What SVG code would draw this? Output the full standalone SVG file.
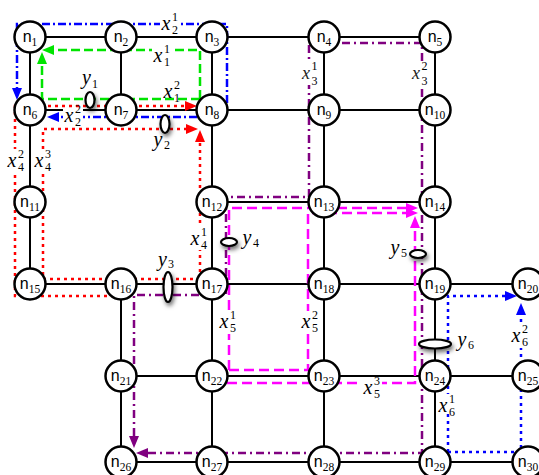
<svg xmlns="http://www.w3.org/2000/svg" width="539" height="475" viewBox="0 0 539 475">
<style>
.edge{stroke:#000;stroke-width:2;fill:none}
.node circle{fill:#fff;stroke:#000;stroke-width:2.5}
.nl{font-family:"Liberation Sans",Arial,sans-serif;font-size:16px;text-anchor:middle;fill:#000}
.ns{font-family:"Liberation Serif","Times New Roman",serif;font-size:11.5px}
.p{fill:none;stroke-width:2.5}
.g{stroke:#00e400;stroke-dasharray:9 4}
.b{stroke:#0000ff;stroke-dasharray:8 3 2 3}
.r{stroke:#ff0000;stroke-dasharray:3 4}
.pu{stroke:#800080;stroke-dasharray:8 4 2 4}
.mg{stroke:#ff00ff;stroke-dasharray:10 5}
.bd{stroke:#0000ff;stroke-dasharray:3 4}
.m{font-family:"Liberation Serif","Times New Roman",serif;font-style:italic;font-size:20px;text-anchor:middle;fill:#000}
.s{font-family:"Liberation Serif","Times New Roman",serif;font-size:12px;fill:#000}
.sm{font-size:18px;fill:#222}
.bg{fill:#fff}
.yel{fill:#fff;stroke:#000;stroke-width:2.2}
</style>
<defs>
<filter id="sh" x="-100%" y="-100%" width="300%" height="300%">
<feDropShadow dx="1.5" dy="3" stdDeviation="2.2" flood-color="#000" flood-opacity="0.55"/>
</filter>
<marker id="ag" markerUnits="userSpaceOnUse" markerWidth="13" markerHeight="12" viewBox="0 -6 13 12" refX="0" refY="0" orient="auto"><path d="M0,-5 L12,0 L0,5 z" fill="#00e400"/></marker>
<marker id="ab" markerUnits="userSpaceOnUse" markerWidth="13" markerHeight="12" viewBox="0 -6 13 12" refX="0" refY="0" orient="auto"><path d="M0,-5 L12,0 L0,5 z" fill="#0000ff"/></marker>
<marker id="ar" markerUnits="userSpaceOnUse" markerWidth="13" markerHeight="12" viewBox="0 -6 13 12" refX="0" refY="0" orient="auto"><path d="M0,-5 L12,0 L0,5 z" fill="#ff0000"/></marker>
<marker id="ap" markerUnits="userSpaceOnUse" markerWidth="13" markerHeight="12" viewBox="0 -6 13 12" refX="0" refY="0" orient="auto"><path d="M0,-5 L12,0 L0,5 z" fill="#800080"/></marker>
<marker id="am" markerUnits="userSpaceOnUse" markerWidth="13" markerHeight="12" viewBox="0 -6 13 12" refX="0" refY="0" orient="auto"><path d="M0,-5 L12,0 L0,5 z" fill="#ff00ff"/></marker>
</defs>
<rect width="539" height="475" fill="#fff"/>
<g id="edges">
<path class="edge" d="M30,37 H435 M30,110 H435 M212,202 H435 M30,284 H528 M121,376 H528 M121,462 H528 M30,37 V284 M121,37 V110 M121,284 V462 M212,37 V462 M324,37 V462 M435,37 V462"/>
</g>
<g id="connectors">
<path class="p g" d="M200,99 V50 H54" marker-end="url(#ag)"/>
<path class="p g" d="M200,99 H42 V64" marker-end="url(#ag)"/>
<path class="p b" d="M227,103 V24 H17 V88" marker-end="url(#ab)"/>
<path class="p b" d="M197,117 H59" marker-end="url(#ab)"/>
<path class="p r" d="M121,296 H15 V106 H185" marker-end="url(#ar)"/>
<path class="p r" d="M200,279 H43 V129 H186" marker-end="url(#ar)"/>
<path class="p r" d="M200,279 V142" marker-end="url(#ar)"/>
<path class="p pu" d="M309,45 V197 H226 V295 H134 V436" marker-end="url(#ap)"/>
<path class="p pu" d="M324,43 H422 V453 H148" marker-end="url(#ap)"/>
<path class="p mg" d="M229,370 V208 H406" marker-end="url(#am)"/>
<path class="p mg" d="M229,370 H308 V213 H406" marker-end="url(#am)"/>
<path class="p mg" d="M212,383 H415 V228" marker-end="url(#am)"/>
<path class="p bd" d="M448,452 V296 H505" marker-end="url(#ab)"/>
<path class="p bd" d="M448,452 H521 V315" marker-end="url(#ab)"/>
</g>
<g id="n1" class="node"><circle cx="30" cy="37" r="15.5"/><text class="nl" x="30" y="42">n<tspan class="ns" dy="3.5">1</tspan></text></g>
<g id="n2" class="node"><circle cx="121" cy="37" r="15.5"/><text class="nl" x="121" y="42">n<tspan class="ns" dy="3.5">2</tspan></text></g>
<g id="n3" class="node"><circle cx="212" cy="37" r="15.5"/><text class="nl" x="212" y="42">n<tspan class="ns" dy="3.5">3</tspan></text></g>
<g id="n4" class="node"><circle cx="324" cy="37" r="15.5"/><text class="nl" x="324" y="42">n<tspan class="ns" dy="3.5">4</tspan></text></g>
<g id="n5" class="node"><circle cx="435" cy="37" r="15.5"/><text class="nl" x="435" y="42">n<tspan class="ns" dy="3.5">5</tspan></text></g>
<g id="n6" class="node"><circle cx="30" cy="110" r="15.5"/><text class="nl" x="30" y="115">n<tspan class="ns" dy="3.5">6</tspan></text></g>
<g id="n7" class="node"><circle cx="121" cy="110" r="15.5"/><text class="nl" x="121" y="115">n<tspan class="ns" dy="3.5">7</tspan></text></g>
<g id="n8" class="node"><circle cx="212" cy="110" r="15.5"/><text class="nl" x="212" y="115">n<tspan class="ns" dy="3.5">8</tspan></text></g>
<g id="n9" class="node"><circle cx="324" cy="110" r="15.5"/><text class="nl" x="324" y="115">n<tspan class="ns" dy="3.5">9</tspan></text></g>
<g id="n10" class="node"><circle cx="435" cy="110" r="15.5"/><text class="nl" x="435" y="115">n<tspan class="ns" dy="3.5">10</tspan></text></g>
<g id="n11" class="node"><circle cx="30" cy="202" r="15.5"/><text class="nl" x="30" y="207">n<tspan class="ns" dy="3.5">11</tspan></text></g>
<g id="n12" class="node"><circle cx="212" cy="202" r="15.5"/><text class="nl" x="212" y="207">n<tspan class="ns" dy="3.5">12</tspan></text></g>
<g id="n13" class="node"><circle cx="324" cy="202" r="15.5"/><text class="nl" x="324" y="207">n<tspan class="ns" dy="3.5">13</tspan></text></g>
<g id="n14" class="node"><circle cx="435" cy="202" r="15.5"/><text class="nl" x="435" y="207">n<tspan class="ns" dy="3.5">14</tspan></text></g>
<g id="n15" class="node"><circle cx="30" cy="284" r="15.5"/><text class="nl" x="30" y="289">n<tspan class="ns" dy="3.5">15</tspan></text></g>
<g id="n16" class="node"><circle cx="121" cy="284" r="15.5"/><text class="nl" x="121" y="289">n<tspan class="ns" dy="3.5">16</tspan></text></g>
<g id="n17" class="node"><circle cx="212" cy="284" r="15.5"/><text class="nl" x="212" y="289">n<tspan class="ns" dy="3.5">17</tspan></text></g>
<g id="n18" class="node"><circle cx="324" cy="284" r="15.5"/><text class="nl" x="324" y="289">n<tspan class="ns" dy="3.5">18</tspan></text></g>
<g id="n19" class="node"><circle cx="435" cy="284" r="15.5"/><text class="nl" x="435" y="289">n<tspan class="ns" dy="3.5">19</tspan></text></g>
<g id="n20" class="node"><circle cx="528" cy="284" r="15.5"/><text class="nl" x="528" y="289">n<tspan class="ns" dy="3.5">20</tspan></text></g>
<g id="n21" class="node"><circle cx="121" cy="376" r="15.5"/><text class="nl" x="121" y="381">n<tspan class="ns" dy="3.5">21</tspan></text></g>
<g id="n22" class="node"><circle cx="212" cy="376" r="15.5"/><text class="nl" x="212" y="381">n<tspan class="ns" dy="3.5">22</tspan></text></g>
<g id="n23" class="node"><circle cx="324" cy="376" r="15.5"/><text class="nl" x="324" y="381">n<tspan class="ns" dy="3.5">23</tspan></text></g>
<g id="n24" class="node"><circle cx="435" cy="376" r="15.5"/><text class="nl" x="435" y="381">n<tspan class="ns" dy="3.5">24</tspan></text></g>
<g id="n25" class="node"><circle cx="528" cy="376" r="15.5"/><text class="nl" x="528" y="381">n<tspan class="ns" dy="3.5">25</tspan></text></g>
<g id="n26" class="node"><circle cx="121" cy="462" r="15.5"/><text class="nl" x="121" y="467">n<tspan class="ns" dy="3.5">26</tspan></text></g>
<g id="n27" class="node"><circle cx="212" cy="462" r="15.5"/><text class="nl" x="212" y="467">n<tspan class="ns" dy="3.5">27</tspan></text></g>
<g id="n28" class="node"><circle cx="324" cy="462" r="15.5"/><text class="nl" x="324" y="467">n<tspan class="ns" dy="3.5">28</tspan></text></g>
<g id="n29" class="node"><circle cx="435" cy="462" r="15.5"/><text class="nl" x="435" y="467">n<tspan class="ns" dy="3.5">29</tspan></text></g>
<g id="n30" class="node"><circle cx="528" cy="462" r="15.5"/><text class="nl" x="528" y="467">n<tspan class="ns" dy="3.5">30</tspan></text></g>
<g id="y-links">
<g id="y1"><ellipse class="yel" cx="90" cy="100" rx="4.5" ry="8" filter="url(#sh)"/><text class="m" x="86.5" y="84">y</text><text class="s" x="92" y="88">1</text></g>
<g id="y2"><ellipse class="yel" cx="165" cy="124" rx="4.5" ry="9" filter="url(#sh)"/><text class="m" x="158" y="146">y</text><text class="s" x="164" y="149">2</text></g>
<g id="y3"><ellipse class="yel" cx="168" cy="287" rx="4.5" ry="15" filter="url(#sh)"/><text class="m" x="162.5" y="266">y</text><text class="s" x="168" y="268">3</text></g>
<g id="y4"><ellipse class="yel" cx="229" cy="242" rx="8" ry="4" filter="url(#sh)"/><text class="m" x="247" y="244">y</text><text class="s" x="253" y="247">4</text></g>
<g id="y5"><ellipse class="yel" cx="418" cy="254" rx="8" ry="4" filter="url(#sh)"/><text class="m" x="395" y="254">y</text><text class="s" x="401" y="257">5</text></g>
<g id="y6"><ellipse class="yel" cx="435" cy="344" rx="16" ry="4.5" filter="url(#sh)"/><text class="m" x="462" y="346">y</text><text class="s" x="468" y="349">6</text></g>
</g>
<g id="labels">
<g><rect class="bg" x="160" y="13" width="20" height="21"/><text class="m" x="166" y="29.5">x</text><text class="s" x="172" y="21">1</text><text class="s" x="172" y="34">2</text></g>
<g><rect class="bg" x="152" y="45" width="21" height="21"/><text class="m" x="158" y="61.5">x</text><text class="s" x="164" y="53">1</text><text class="s" x="164" y="66">1</text></g>
<g><rect class="bg" x="162" y="82" width="20" height="15"/><text class="m" x="168" y="97.5">x</text><text class="s" x="174" y="89">2</text><text class="s" x="174" y="102">1</text></g>
<g><rect class="bg" x="63" y="108.5" width="20" height="16"/><text class="m" x="69" y="121.5">x</text><text class="s" x="75" y="113">2</text><text class="s" x="75" y="126">2</text></g>
<g><rect class="bg" x="6" y="149" width="19" height="22"/><text class="m" x="12" y="166.5">x</text><text class="s" x="18" y="158">2</text><text class="s" x="18" y="171">4</text></g>
<g><rect class="bg" x="33" y="149" width="19" height="22"/><text class="m" x="39" y="166.5">x</text><text class="s" x="45" y="158">3</text><text class="s" x="45" y="171">4</text></g>
<g><rect class="bg" x="189" y="227" width="19" height="23"/><text class="m" x="195" y="244.5">x</text><text class="s" x="201" y="236">1</text><text class="s" x="201" y="249">4</text></g>
<g><rect class="bg" x="300" y="62" width="18" height="23"/><text class="m sm" x="306" y="79">x</text><text class="s" x="311.5" y="70" font-size="11">1</text><text class="s" x="311.5" y="84.5" font-size="11">3</text></g>
<g><rect class="bg" x="410" y="62" width="18" height="23"/><text class="m sm" x="416" y="79">x</text><text class="s" x="421.5" y="70" font-size="11">2</text><text class="s" x="421.5" y="84.5" font-size="11">3</text></g>
<g><rect class="bg" x="218" y="311" width="20" height="23"/><text class="m" x="224" y="327.5">x</text><text class="s" x="230" y="319">1</text><text class="s" x="230" y="332">5</text></g>
<g><rect class="bg" x="300" y="311" width="20" height="23"/><text class="m" x="306" y="327.5">x</text><text class="s" x="312" y="319">2</text><text class="s" x="312" y="332">5</text></g>
<g><rect class="bg" x="362" y="378" width="20" height="21"/><text class="m" x="368" y="393.5">x</text><text class="s" x="374" y="385">3</text><text class="s" x="374" y="398">5</text></g>
<g><rect class="bg" x="437" y="394" width="18" height="20"/><text class="m" x="443" y="411.5">x</text><text class="s" x="449" y="403">1</text><text class="s" x="449" y="416">6</text></g>
<g><rect class="bg" x="510" y="324" width="19" height="24"/><text class="m" x="516" y="341.5">x</text><text class="s" x="522" y="333">2</text><text class="s" x="522" y="346">6</text></g>
</g>
</svg>
